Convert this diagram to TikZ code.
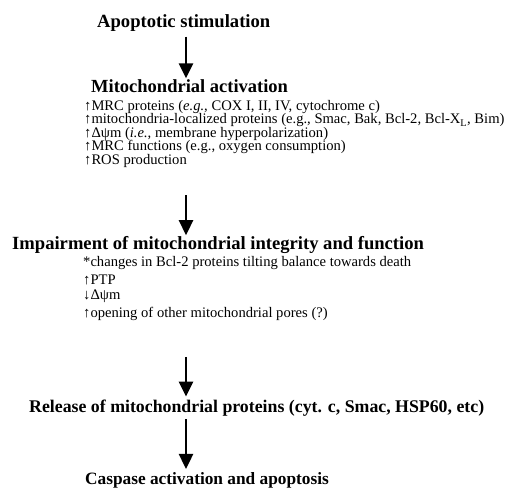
\documentclass[tikz,border=0pt]{standalone}
\usepackage{fontspec}
\setmainfont{Liberation Serif}
\usetikzlibrary{arrows.meta}
\tikzset{
  head/.style={font=\fontsize{#1}{20}\selectfont\bfseries, inner sep=0pt, anchor=west},
  head/.default=18,
  detail/.style={font=\fontsize{14.6}{15}\selectfont, inner sep=0pt, anchor=west},
  flow/.style={line width=2.6pt, -{Triangle[width=14pt,length=15pt]}}
}
\begin{document}
\begin{tikzpicture}[x=1pt,y=1pt]
\useasboundingbox[fill=white] (0,0) rectangle (508,-493);
% headings
\node[head=18.6] (apop) at (97,-23) {Apoptotic stimulation};
\node[head=18.5] (mito) at (91,-86) {Mitochondrial activation};
\node[detail] (m1) at (84,-107) {↑MRC proteins (\textit{e.g.}, COX I, II, IV, cytochrome c)};
\node[detail] (m2) at (84,-120.5) {↑mitochondria-localized proteins (e.g., Smac, Bak, Bcl-2, Bcl-X\textsubscript{L}, Bim)};
\node[detail] (m3) at (84,-134) {↑Δψm (\textit{i.e.}, membrane hyperpolarization)};
\node[detail] (m4) at (84,-147) {↑MRC functions (e.g., oxygen consumption)};
\node[detail] (m5) at (84,-160.5) {↑ROS production};
\node[head=18.6] (imp) at (12,-245) {Impairment of mitochondrial integrity and function};
\node[detail] (i1) at (83,-263) {*changes in Bcl-2 proteins tilting balance towards death};
\node[detail] (i2) at (83,-279.5) {↑PTP};
\node[detail] (i3) at (83,-296.5) {↓Δψm};
\node[detail] (i4) at (83,-314) {↑opening of other mitochondrial pores (?)};
\node[head=17.8] (rel) at (29,-408) {Release of mitochondrial proteins (cyt. c, Smac, HSP60, etc)};
\node[head=17.3] (cas) at (85,-480) {Caspase activation and apoptosis};
% arrow axis
\coordinate (ax) at (186,0);
\draw[flow] ([yshift=-5pt]apop.south -| ax) -- ([yshift=1pt]mito.north -| ax);
\draw[flow] ([yshift=-28pt]m5.south -| ax) -- ([yshift=1pt]imp.north -| ax);
\draw[flow] ([yshift=-36pt]i4.south -| ax) -- ([yshift=3pt]rel.north -| ax);
\draw[flow] ([yshift=-3pt]rel.south -| ax) -- ([yshift=3pt]cas.north -| ax);
\end{tikzpicture}
\end{document}
